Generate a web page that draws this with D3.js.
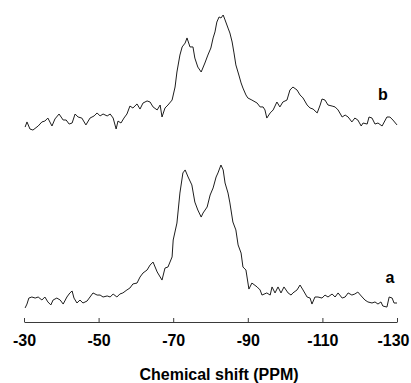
<!DOCTYPE html>
<html>
<head>
<meta charset="utf-8">
<script src="https://cdn.jsdelivr.net/npm/d3@7"></script>
<style>
  body { margin: 0; background: #fff; }
  svg { display: block; font-family: Arial, "Liberation Sans", sans-serif; }
  .trace { fill: none; stroke: #1e1e1e; stroke-width: 1; stroke-linejoin: round; }
  .axis path, .axis line { stroke: #3a3a3a; stroke-width: 1; }
  .axis text { font-size: 16px; font-weight: bold; fill: #000; }
  .label { font-size: 16px; font-weight: bold; fill: #000; }
</style>
</head>
<body>
<script>
//// DATA (chemical shift in ppm, intensity in arbitrary units)
var shiftA = [-30.3,-30.8,-31.3,-32.1,-33.0,-33.8,-34.8,-35.6,-36.4,-37.2,
  -37.8,-38.8,-39.7,-40.5,-41.5,-42.3,-42.9,-43.4,-44.2,-45.0,
  -45.8,-46.9,-47.7,-48.5,-49.6,-50.4,-51.2,-52.3,-53.1,-53.9,
  -54.9,-55.7,-56.5,-57.6,-58.4,-59.2,-60.3,-61.1,-61.9,-63.0,
  -63.8,-64.6,-65.7,-67.0,-67.8,-68.6,-69.7,-70.0,-71.0,-71.8,
  -72.6,-73.2,-74.0,-75.0,-75.8,-76.6,-77.5,-78.0,-79.1,-79.9,
  -80.7,-81.5,-82.0,-82.8,-83.4,-83.9,-84.7,-85.2,-86.0,-86.8,
  -87.4,-88.2,-88.7,-89.5,-90.3,-91.1,-92.5,-93.3,-93.8,-95.1,
  -96.0,-96.5,-97.3,-98.1,-98.9,-99.7,-100.8,-101.6,-102.1,-103.2,
  -104.0,-104.8,-105.9,-106.7,-107.2,-108.0,-108.8,-109.9,-110.7,-111.5,
  -112.6,-113.4,-114.2,-115.3,-116.1,-116.9,-117.9,-118.7,-119.5,-120.4,
  -121.4,-122.2,-123.3,-124.1,-124.9,-125.7,-126.2,-127.3,-127.9,-128.7,
  -129.2,-130.0];
var intensityA = [-5.3,-2.7,1.3,2.0,1.3,2.0,0,2.0,-1.3,-3.3,
  0,1.3,0,-2.7,2.0,4.7,6.0,1.3,-2.0,0,
  -2.0,-0.7,2.0,4.7,3.3,3.3,2.0,2.7,2.0,4.0,
  2.0,4.0,4.7,6.7,8.0,10.7,11.3,15.3,18.0,20.0,
  23.3,25.3,18.7,13.3,21.3,22.0,28.7,40.0,51.3,71.3,
  84.7,86.7,82.0,76.7,65.3,60.0,55.3,58.0,62.0,70.0,
  74.7,82.0,84.7,90.0,86.7,78.0,71.3,64.7,52.0,46.7,
  36.7,31.3,22.0,20.0,7.3,11.3,8.7,6.7,3.3,4.7,
  3.3,8.7,4.7,8.7,4.7,8.7,4.7,3.3,4.7,6.7,
  10.0,6.7,2.0,1.3,-2.7,2.0,2.0,1.3,3.3,2.0,
  4.0,2.0,4.7,1.3,2.0,4.7,3.3,4.0,5.3,2.7,
  0,-1.3,-2.0,-1.3,-2.7,-1.3,-4.0,-4.7,2.0,1.3,
  -2.0,-2.0];

var shiftB = [-30.3,-30.8,-31.6,-32.4,-33.8,-34.8,-35.6,-36.4,-37.5,-38.3,
  -39.4,-40.5,-41.3,-42.1,-42.9,-43.7,-44.5,-45.5,-46.6,-47.7,
  -48.8,-49.6,-50.4,-51.2,-52.3,-53.1,-53.9,-54.7,-55.2,-56.0,
  -56.8,-57.6,-58.4,-59.2,-60.3,-61.1,-61.9,-63.0,-63.8,-64.6,
  -65.7,-66.5,-67.0,-67.8,-68.6,-69.7,-70.5,-71.0,-71.8,-72.4,
  -73.2,-73.7,-74.5,-75.3,-75.8,-76.6,-77.5,-78.5,-79.3,-80.1,
  -80.7,-81.2,-81.7,-82.3,-82.8,-83.4,-83.9,-84.7,-85.2,-85.8,
  -86.3,-86.8,-87.6,-88.2,-88.7,-89.5,-90.0,-91.1,-92.5,-93.3,
  -94.1,-94.6,-95.1,-96.0,-96.8,-97.8,-98.6,-99.4,-100.5,-101.3,
  -102.1,-103.2,-104.0,-104.8,-105.9,-106.7,-107.5,-108.6,-109.4,-109.9,
  -110.7,-111.5,-112.6,-113.4,-114.2,-115.3,-116.1,-116.9,-117.9,-118.7,
  -119.5,-120.4,-120.9,-122.0,-122.5,-123.3,-124.1,-124.9,-126.0,-127.3,
  -128.1,-128.9,-130.0];
var intensityB = [-4.7,-1.3,-6.0,-6.7,-4.0,-1.3,-0.7,1.3,-4.0,0.7,
  4.0,0,0,-2.7,-2.0,4.0,2.0,1.3,-3.3,1.3,
  2.7,4.7,2.7,4.0,2.7,4.0,1.3,-6.0,-0.7,-2.0,
  1.3,4.0,9.3,8.0,10.7,7.3,11.3,12.7,12.0,8.7,
  6.7,10.0,2.0,8.0,10.0,13.3,22.0,32.0,43.3,48.7,
  51.3,54.7,48.7,48.7,41.3,35.3,32.0,38.0,43.3,48.0,
  54.7,58.7,65.3,68.7,68.0,70.0,66.7,61.3,58.0,52.0,
  44.7,36.7,30.0,24.7,21.3,16.7,14.7,13.3,11.3,8.7,
  8.7,6.7,1.3,4.7,6.7,12.0,8.7,12.0,13.3,20.0,
  22.0,20.0,16.7,14.7,10.0,8.0,7.3,4.7,10.0,14.0,
  13.3,10.0,9.3,8.7,6.7,2.0,3.3,2.0,-1.3,1.3,
  0,-4.0,-2.0,-2.7,2.0,1.3,-2.7,-2.0,-4.0,2.0,
  2.0,0,-3.3];

var seriesNames = ["a", "b"];
var tickValues = [-30, -50, -70, -90, -110, -130];
var axisTitle = "Chemical shift (PPM)";

//// LAYOUT
var W = 411, H = 383;
var axisY = 322;
var stackOffset = 120;   // vertical offset of trace b

var xScale = d3.scaleLinear().domain([-30, -130]).range([24, 397]);
var yScale = d3.scaleLinear().domain([-20, 200]).range([330, 0]);

var svg = d3.select("body").append("svg")
    .attr("width", W)
    .attr("height", H);

var line = d3.line()
    .x(function(d) { return xScale(d[0]); })
    .y(function(d) { return yScale(d[1] + d[2]); });

var traces = [
  { name: seriesNames[0], data: d3.zip(shiftA, intensityA).map(function(d) { return [d[0], d[1], 0]; }) },
  { name: seriesNames[1], data: d3.zip(shiftB, intensityB).map(function(d) { return [d[0], d[1], stackOffset]; }) }
];

svg.selectAll(".trace")
    .data(traces)
  .enter().append("path")
    .attr("class", "trace")
    .attr("d", function(d) { return line(d.data); });

// Trace labels
svg.append("text").attr("class", "label")
    .attr("text-anchor", "middle")
    .attr("x", xScale(-128.1))
    .attr("y", yScale(11.5))
    .text(seriesNames[0]);
svg.append("text").attr("class", "label")
    .attr("text-anchor", "middle")
    .attr("x", xScale(-126.2))
    .attr("y", yScale(stackOffset + 13.3))
    .text(seriesNames[1]);

// x axis
var xAxis = d3.axisBottom(xScale)
    .tickValues(tickValues)
    .tickSizeInner(-4)
    .tickSizeOuter(0)
    .tickPadding(13)
    .tickFormat(function(d) { return d; });

var gx = svg.append("g")
    .attr("class", "x axis")
    .attr("transform", "translate(0," + axisY + ")")
    .call(xAxis);

// keep the last label inside the frame
gx.selectAll(".tick text")
    .filter(function(d) { return d === tickValues[tickValues.length - 1]; })
    .attr("dx", -4);

svg.append("text")
    .attr("class", "label")
    .attr("text-anchor", "middle")
    .attr("x", 219)
    .attr("y", 380)
    .text(axisTitle);
</script>
</body>
</html>
